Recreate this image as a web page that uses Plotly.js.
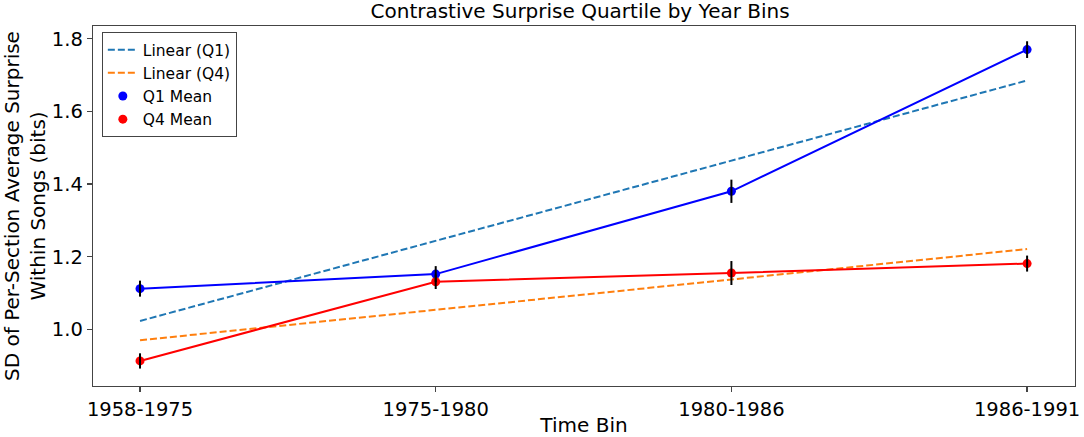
<!DOCTYPE html>
<html>
<head>
<meta charset="utf-8">
<script src="https://cdn.plot.ly/plotly-3.0.1.min.js"></script>
<style>html,body{margin:0;padding:0;background:#fff;}#chart{width:1084px;height:437px;}</style>
</head>
<body>
<div id="chart"></div>
<script>
// Data
const timeBins = ["1958-1975", "1975-1980", "1980-1986", "1986-1991"];
const q1Mean = [1.112, 1.152, 1.380, 1.770];
const q1Err = [0.022, 0.022, 0.032, 0.023];
const q4Mean = [0.913, 1.131, 1.155, 1.181];
const q4Err = [0.021, 0.020, 0.033, 0.022];
const q1Linear = [1.023, 1.244, 1.464, 1.685];
const q4Linear = [0.970, 1.054, 1.137, 1.221];
const yTicks = [1.0, 1.2, 1.4, 1.6, 1.8];
const yTickText = ["1.0", "1.2", "1.4", "1.6", "1.8"];

const FONT = "DejaVu Sans, Liberation Sans, sans-serif";

const traces = [
  {x: timeBins, y: q1Linear, mode: "lines", name: "Linear (Q1)",
   line: {color: "#1f77b4", width: 2, dash: "7px,3px"}},
  {x: timeBins, y: q4Linear, mode: "lines", name: "Linear (Q4)",
   line: {color: "#ff7f0e", width: 2, dash: "7px,3px"}},
  {x: timeBins, y: q1Mean, mode: "lines", showlegend: false, hoverinfo: "skip",
   line: {color: "#0000ff", width: 2}},
  {x: timeBins, y: q4Mean, mode: "lines", showlegend: false, hoverinfo: "skip",
   line: {color: "#ff0000", width: 2}},
  {x: timeBins, y: q1Mean, mode: "markers", name: "Q1 Mean",
   marker: {color: "#0000ff", size: 9}},
  {x: timeBins, y: q4Mean, mode: "markers", name: "Q4 Mean",
   marker: {color: "#ff0000", size: 9}},
  {x: timeBins, y: q1Mean, mode: "markers", showlegend: false, hoverinfo: "skip",
   marker: {color: "rgba(0,0,0,0)", size: 1},
   error_y: {type: "data", array: q1Err, visible: true, color: "#000", thickness: 2, width: 0}},
  {x: timeBins, y: q4Mean, mode: "markers", showlegend: false, hoverinfo: "skip",
   marker: {color: "rgba(0,0,0,0)", size: 1},
   error_y: {type: "data", array: q4Err, visible: true, color: "#000", thickness: 2, width: 0}}
];

const axisCommon = {
  showline: true, mirror: true, linecolor: "#444", linewidth: 1.3,
  ticks: "outside", ticklen: 5, tickwidth: 1.2, tickcolor: "#444",
  showgrid: false, zeroline: false,
  tickfont: {family: FONT, size: 19.5, color: "#000"}
};

const layout = {
  width: 1084, height: 437,
  margin: {l: 93, r: 9, t: 26, b: 51, pad: 0},
  paper_bgcolor: "#fff", plot_bgcolor: "#fff",
  font: {family: FONT, color: "#000"},
  title: {text: "Contrastive Surprise Quartile by Year Bins",
          font: {family: FONT, size: 20, color: "#000"},
          xref: "paper", x: 0.496, xanchor: "center", y: 0.99, yanchor: "top"},
  xaxis: Object.assign({}, axisCommon, {
    type: "category", range: [-0.159, 3.162],
    title: {text: "Time Bin", font: {family: FONT, size: 20, color: "#000"}, standoff: 4}
  }),
  yaxis: Object.assign({}, axisCommon, {
    range: [0.844, 1.835], tickvals: yTicks, ticktext: yTickText,
    title: {text: "SD of Per-Section Average Surprise<br>Within Songs (bits)",
            font: {family: FONT, size: 20, color: "#000"}, standoff: 8}
  }),
  legend: {x: 0.009, y: 0.983, xanchor: "left", yanchor: "top",
           bgcolor: "#fff", bordercolor: "#444", borderwidth: 1,
           font: {family: FONT, size: 15.5, color: "#000"},
           tracegroupgap: 0, itemwidth: 30},
  showlegend: true
};

Plotly.newPlot("chart", traces, layout, {displayModeBar: false, staticPlot: true});
</script>
</body>
</html>
